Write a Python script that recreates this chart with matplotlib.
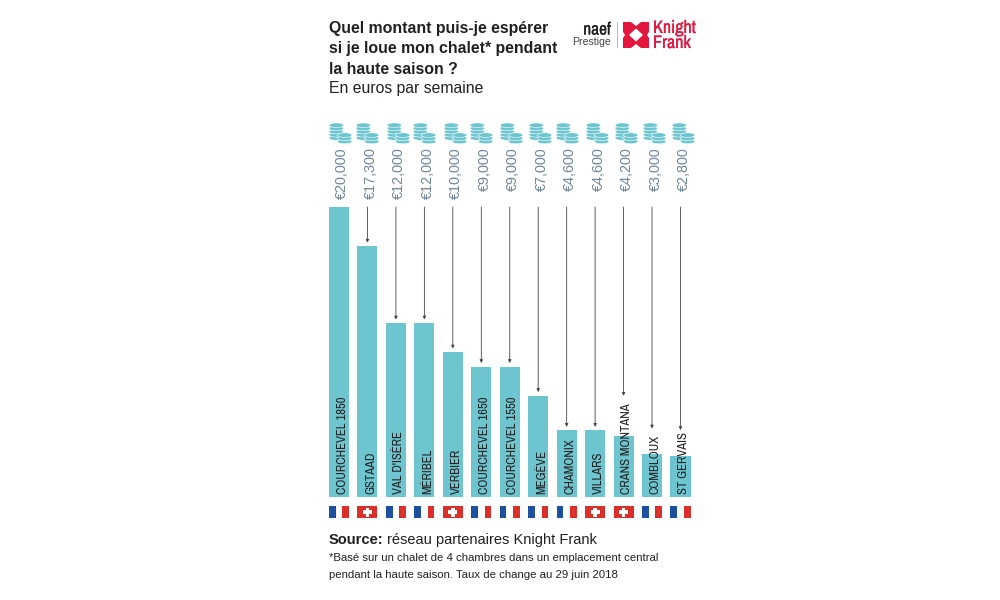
import matplotlib.pyplot as plt
import matplotlib.patheffects as pe
from matplotlib.patches import Ellipse, Polygon, Rectangle

resorts = ['COURCHEVEL 1850', 'GSTAAD', "VAL D'ISÈRE", 'MÉRIBEL', 'VERBIER',
           'COURCHEVEL 1650', 'COURCHEVEL 1550', 'MEGÈVE', 'CHAMONIX', 'VILLARS',
           'CRANS MONTANA', 'COMBLOUX', 'ST GERVAIS']
rents = [20000, 17300, 12000, 12000, 10000, 9000, 9000, 7000, 4600, 4600, 4200, 3000, 2800]
flags = ['fr', 'ch', 'fr', 'fr', 'ch', 'fr', 'fr', 'fr', 'fr', 'ch', 'ch', 'fr', 'fr']
# the arrow stops early where the resort name sticks out of the bar
arrow_gaps = {'CRANS MONTANA': 29, 'COMBLOUX': 18, 'ST GERVAIS': 19}
icon_lefts = [329, 356, 387, 413, 444, 470, 500, 529, 556, 586, 615, 643, 672]

TEAL = '#6dc5cf'
RED = '#d9302a'
BLUE = '#1f4f9f'
LOGO_RED = '#e3173e'
SLATE = '#71879a'
DARK = '#231f20'
NARROW = ['Archivo Narrow', 'Barlow Condensed', 'Liberation Sans']
BAR_WIDTH = 0.704

plt.rcParams['font.family'] = ['Liberation Sans', 'DejaVu Sans']

fig = plt.figure(figsize=(10, 6), dpi=100, facecolor='white')


def pixel_box(left, top, right, bottom):
    # figure fraction box from pixel edges
    return [left / 1000, 1 - bottom / 600, (right - left) / 1000, (bottom - top) / 600]


def thicken(colour, width):
    # the narrow font only comes in one weight here, so fatten it a little
    return [pe.withStroke(linewidth=width, foreground=colour)]


# overlay in pixel coordinates for the text blocks and the logo
page = fig.add_axes([0, 0, 1, 1])
page.set_xlim(0, 1000)
page.set_ylim(600, 0)
page.axis('off')

# bars
ax = fig.add_axes(pixel_box(329, 207, 690.5, 497))
ax.bar(range(len(rents)), rents, width=BAR_WIDTH, color=TEAL)
ax.set_xlim(-BAR_WIDTH / 2, len(rents) - 1 + BAR_WIDTH / 2)
ax.set_ylim(0, 20000)
ax.axis('off')

for i, (resort, rent) in enumerate(zip(resorts, rents)):
    ax.annotate(resort, xy=(i, 0), xytext=(2.2, 2.2), textcoords='offset points',
                rotation=90, ha='center', va='bottom', fontsize=9.1,
                family=NARROW, color=DARK, annotation_clip=False)
    ax.annotate('€{:,}'.format(rent), xy=(i, 20000), xytext=(2.4, 43), textcoords='offset points',
                rotation=90, ha='center', va='top', fontsize=10.4,
                color=SLATE, annotation_clip=False)
    if i > 0:
        ax.annotate('', xy=(i, rent), xytext=(i, 20000),
                    arrowprops=dict(arrowstyle='-|>,head_width=0.09,head_length=0.18',
                                    color='#444444', lw=0.6, shrinkA=0,
                                    shrinkB=arrow_gaps.get(resort, 2.5)),
                    annotation_clip=False)

# flags
flag_ax = fig.add_axes(pixel_box(329, 506, 690.5, 518))
flag_ax.set_xlim(ax.get_xlim())
flag_ax.set_ylim(0, 1)
flag_ax.axis('off')
for i, flag in enumerate(flags):
    left = i - BAR_WIDTH / 2
    if flag == 'fr':
        flag_ax.add_patch(Rectangle((left, 0), BAR_WIDTH / 3, 1, color=BLUE, lw=0))
        flag_ax.add_patch(Rectangle((left + 2 * BAR_WIDTH / 3, 0), BAR_WIDTH / 3, 1, color=RED, lw=0))
    else:
        flag_ax.add_patch(Rectangle((left, 0), BAR_WIDTH, 1, color=RED, lw=0))
        flag_ax.add_patch(Rectangle((i - 0.16, 0.35), 0.32, 0.3, color='white', lw=0))
        flag_ax.add_patch(Rectangle((i - 0.06, 0.125), 0.12, 0.75, color='white', lw=0))


def draw_coins(x, y, count):
    # stack of flat discs, bottom disc first
    for n in range(count):
        page.add_patch(Ellipse((x, y - n * 3.2), 14.5, 4.6, facecolor=TEAL,
                               edgecolor='white', lw=0.4, zorder=3 + n))


# coin icons sit above each value label
for left in icon_lefts:
    draw_coins(left + 7.3, 138, 5)
    draw_coins(left + 15.7, 141.5, 3)

# title block
for y, line in zip([28, 49, 70], ['Quel montant puis-je espérer',
                                  'si je loue mon chalet* pendant',
                                  'la haute saison ?']):
    page.text(329, y, line, fontsize=11.4, fontweight='bold', color=DARK, va='center')
page.text(329, 89, 'En euros par semaine', fontsize=11.3, color=DARK, va='center')

# source block
page.text(329, 540, 'Source:', fontsize=10.5, fontweight='bold', color=DARK, va='center')
page.text(387, 540, 'réseau partenaires Knight Frank', fontsize=10.5, color=DARK, va='center')
page.text(329, 558, '*Basé sur un chalet de 4 chambres dans un emplacement central',
          fontsize=8.2, color=DARK, va='center')
page.text(329, 575, 'pendant la haute saison. Taux de change au 29 juin 2018',
          fontsize=8.2, color=DARK, va='center')

# logos
page.text(611, 30, 'naef', fontsize=12.5, family=NARROW, color=DARK, ha='right', va='center',
          path_effects=thicken(DARK, 0.15))
page.text(611, 42, 'Prestige', fontsize=7.6, color='#444444', ha='right', va='center')
page.plot([617, 617], [22, 47], color='#bbbbbb', lw=0.7)
for sx in (-1, 1):
    for sy in (-1, 1):
        shape = [(13, 13), (5, 13), (0, 9), (0, 6.5), (7, 0), (11, 0), (13, 3)]
        page.add_patch(Polygon([(636 + sx * px, 35 + sy * py) for px, py in shape],
                               color=LOGO_RED, lw=0))
page.text(653, 28, 'Knight', fontsize=13, family=NARROW, color=LOGO_RED, va='center',
          path_effects=thicken(LOGO_RED, 0.15))
page.text(653, 43, 'Frank', fontsize=13, family=NARROW, color=LOGO_RED, va='center',
          path_effects=thicken(LOGO_RED, 0.15))

fig.savefig('out.png', dpi=100)
